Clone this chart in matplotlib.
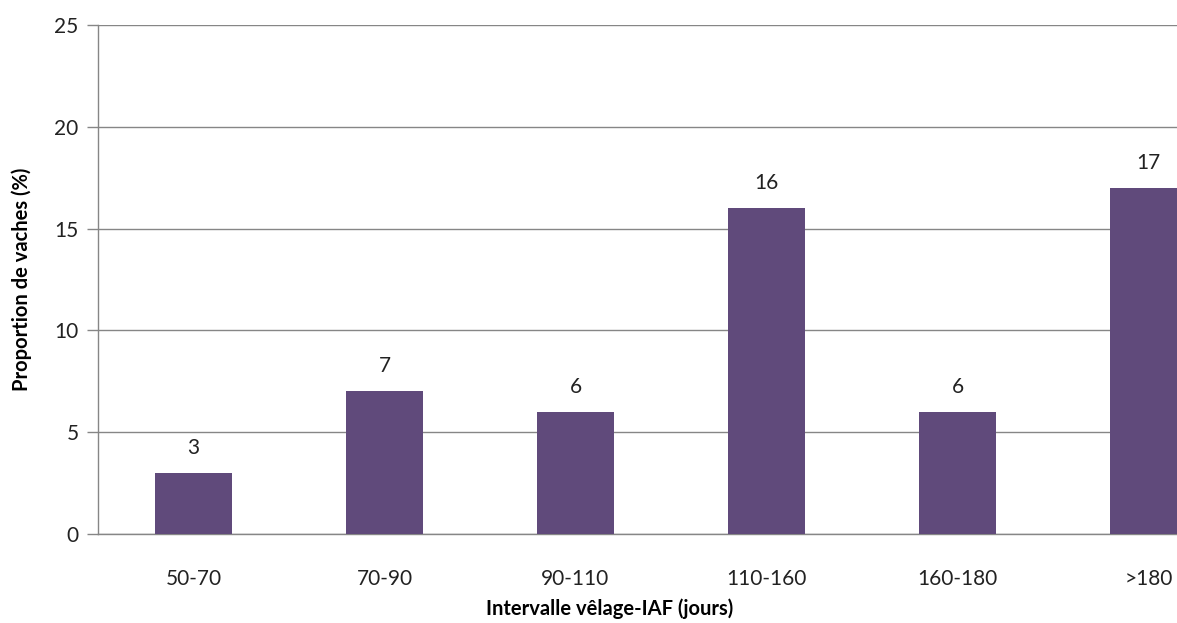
import matplotlib.pyplot as plt

categories = ['50-70', '70-90', '90-110', '110-160', '160-180', '>180']
proportions = [3, 7, 6, 16, 6, 17]
y_ticks = [0, 5, 10, 15, 20, 25]

plt.rcParams['font.family'] = ['Lato', 'DejaVu Sans']

fig = plt.figure(figsize=(11.77, 6.23), dpi=100)
# the original chart is cropped on the right, so the axes run past the figure edge
ax = fig.add_axes([98 / 1177, 1 - 534 / 623, 1146 / 1177, 509 / 623])

x = range(len(categories))
bars = ax.bar(x, proportions, width=0.4, color='#604a7b', zorder=3)
for xi, v in zip(x, proportions):
    ax.text(xi, v + 0.75, str(v), ha='center', va='bottom', fontsize=15, color='#222222')

ax.set_xlim(-0.5, 5.5)
ax.set_ylim(0, 25)
ax.set_yticks(y_ticks)
ax.set_xticks(list(x))
ax.set_xticklabels(categories)
ax.tick_params(axis='x', length=0, pad=25, labelsize=15, colors='#222222')
ax.tick_params(axis='y', length=8, width=1, color='#868686', pad=6, labelsize=15, labelcolor='#222222')
ax.grid(axis='y', color='#868686', linewidth=1, zorder=0)

for side in ['top', 'right']:
    ax.spines[side].set_visible(False)
for side in ['left', 'bottom']:
    ax.spines[side].set_color('#868686')
    ax.spines[side].set_linewidth(1)

ax.set_ylabel('Proportion de vaches (%)', fontsize=14.5, fontweight='bold', labelpad=16)
ax.set_xlabel('Intervalle vêlage-IAF (jours)', fontsize=14.5, fontweight='bold')
ax.xaxis.set_label_coords((610 - 98) / 1146, -(598 - 534) / 509)

fig.savefig('out.png', dpi=100)
